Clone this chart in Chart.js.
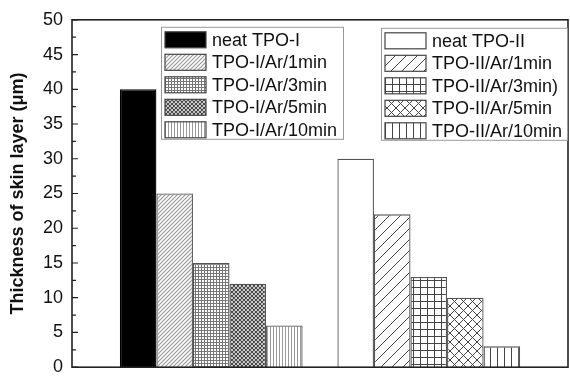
<!DOCTYPE html>
<html>
<head>
<meta charset="utf-8">
<script src="https://cdn.jsdelivr.net/npm/chart.js@4"></script>
<style>
  html, body { margin: 0; padding: 0; background: #fff; }
  #wrap { width: 570px; height: 387px; }
</style>
</head>
<body>
<div id="wrap"><canvas id="myChart" width="570" height="387"></canvas></div>
<script>
// data
const groups = [0, 1]; // TPO-I group, TPO-II group
const seriesI = ['neat TPO-I', 'TPO-I/Ar/1min', 'TPO-I/Ar/3min', 'TPO-I/Ar/5min', 'TPO-I/Ar/10min'];
const valuesI = [40, 25, 15, 12, 6];
const seriesII = ['neat TPO-II', 'TPO-II/Ar/1min', 'TPO-II/Ar/3min)', 'TPO-II/Ar/5min', 'TPO-II/Ar/10min'];
const valuesII = [30, 22, 13, 10, 3];
const yTicks = [0, 5, 10, 15, 20, 25, 30, 35, 40, 45, 50];

const FONT = "'Liberation Sans', Arial, sans-serif";

// hatch patterns
function hatch(size, bg, fg, lw, draw) {
  const c = document.createElement('canvas');
  c.width = c.height = size;
  const g = c.getContext('2d');
  g.fillStyle = bg;
  g.fillRect(0, 0, size, size);
  g.strokeStyle = fg;
  g.lineWidth = lw;
  g.beginPath();
  draw(g, size);
  g.stroke();
  return g.createPattern(c, 'repeat');
}
const diag = (g, s) => { g.moveTo(0, s); g.lineTo(s, 0); g.moveTo(-1, 1); g.lineTo(1, -1); g.moveTo(s - 1, s + 1); g.lineTo(s + 1, s - 1); };
const cross = (g, s) => { diag(g, s); g.moveTo(0, 0); g.lineTo(s, s); g.moveTo(-1, s - 1); g.lineTo(1, s + 1); g.moveTo(s - 1, -1); g.lineTo(s + 1, 1); };
const grid = (g, s) => { g.moveTo(0.5, 0); g.lineTo(0.5, s); g.moveTo(0, 0.5); g.lineTo(s, 0.5); };
const vert = (g, s) => { g.moveTo(0.5, 0); g.lineTo(0.5, s); };

const fillsI = [
  '#000',
  hatch(4, '#fff', '#999', 1.2, diag),
  hatch(3, '#fff', '#777', 1, grid),
  hatch(4, '#fff', '#444', 1.2, cross),
  hatch(3, '#fff', '#999', 1, vert)
];
const fillsII = [
  '#fff',
  hatch(11, '#fff', '#444', 1, diag),
  hatch(7, '#fff', '#444', 1, grid),
  hatch(9, '#fff', '#444', 1, cross),
  hatch(7, '#fff', '#444', 1, vert)
];

// one dataset per treatment, one bar per material group
const datasets = seriesI.map((name, i) => ({
  label: name,
  names: [seriesI[i], seriesII[i]],
  data: groups.map(x => ({ x: x, y: x === 0 ? valuesI[i] : valuesII[i] })),
  backgroundColor: [fillsI[i], fillsII[i]],
  borderColor: [i === 0 ? '#000' : '#555', '#555'],
  borderWidth: 1.3,
  categoryPercentage: 0.84,
  barPercentage: 1.0
}));

const data = { datasets };

// frame, inward ticks and the two boxed legends
const decor = {
  id: 'decor',
  afterDraw(chart) {
    const c = chart.ctx, a = chart.chartArea, y = chart.scales.y;
    c.save();
    c.strokeStyle = '#222';
    c.lineWidth = 1.6;
    c.strokeRect(a.left, a.top, a.right - a.left, a.bottom - a.top);
    c.lineWidth = 1.2;
    c.beginPath();
    for (let v = 0; v <= 50; v += 2.5) {
      const py = y.getPixelForValue(v);
      const len = v % 5 === 0 ? 6 : 4;
      c.moveTo(a.left, py);
      c.lineTo(a.left + len, py);
    }
    c.stroke();

    const boxes = [
      { x: a.left + 89, y: a.top + 7, w: 182, h: 112 },
      { x: a.left + 309, y: a.top + 8, w: 186, h: 112 }
    ];
    c.font = '18px ' + FONT;
    c.textBaseline = 'middle';
    boxes.forEach((b, g) => {
      c.strokeStyle = '#999';
      c.lineWidth = 1;
      c.strokeRect(b.x + 0.5, b.y + 0.5, b.w, b.h);
      chart.data.datasets.forEach((d, i) => {
        const sy = b.y + 5 + i * 22.5;
        c.fillStyle = d.backgroundColor[g];
        c.fillRect(b.x + 4, sy, 41, 16);
        c.strokeStyle = '#444';
        c.lineWidth = 1.2;
        c.strokeRect(b.x + 4, sy, 41, 16);
        c.fillStyle = '#111';
        c.fillText(d.names[g], b.x + 51, sy + 9);
      });
    });
    c.restore();
  }
};

const config = {
  type: 'bar',
  data,
  options: {
    responsive: false,
    animation: false,
    layout: { padding: { top: 14, right: 2, bottom: 6, left: 0 } },
    scales: {
      x: {
        type: 'linear',
        min: -0.64,
        max: 1.64,
        offset: false,
        display: false,
        afterBuildTicks(scale) { scale.ticks = groups.map(v => ({ value: v })); }
      },
      y: {
        min: 0,
        max: 50,
        afterFit(scale) { scale.width = 72; },
        afterBuildTicks(scale) { scale.ticks = yTicks.map(v => ({ value: v })); },
        grid: { display: false, drawTicks: false },
        border: { display: false },
        ticks: {
          color: '#111',
          padding: 9,
          font: { family: FONT, size: 18 }
        },
        title: {
          display: true,
          text: 'Thickness of skin layer (μm)',
          color: '#111',
          padding: { top: 7, bottom: 0 },
          font: { family: FONT, size: 18, weight: 'bold' }
        }
      }
    },
    plugins: {
      legend: { display: false },
      tooltip: { enabled: false }
    }
  },
  plugins: [decor]
};

const myChart = new Chart(document.getElementById('myChart'), config);
</script>
</body>
</html>
